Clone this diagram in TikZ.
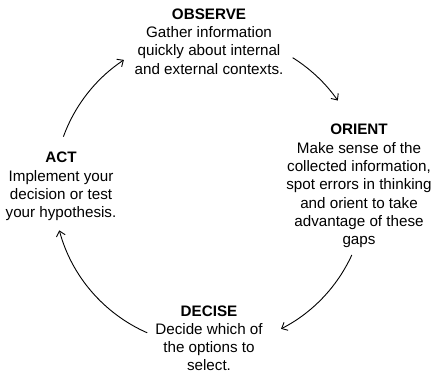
\documentclass[tikz,border=0pt]{standalone}
\usepackage{fontspec}
\setmainfont{Liberation Sans}
\usetikzlibrary{arrows.meta,calc}
\begin{document}
\begin{tikzpicture}[x=1pt,y=1pt,
  lbl/.style={anchor=base,align=center,inner sep=0pt,font=\fontsize{15.2}{18.3}\selectfont},
  cyc/.style={line width=0.9pt,-{Straight Barb[length=5pt,width=9pt,line width=0.9pt]}}]
\useasboundingbox (0,0) rectangle (433,374);
\coordinate (c) at (210,184);
% base anchor = baseline of the last line
\node[lbl] (observe) at (209,374-74.2) {\textbf{OBSERVE}\\Gather information\\quickly about internal\\and external contexts.};
\node[lbl] (orient) at (359,374-244.8) {\textbf{ORIENT}\\Make sense of the\\collected information,\\spot errors in thinking\\and orient to take\\advantage of these\\gaps};
\node[lbl] (decise) at (209,374-371) {\textbf{DECISE}\\Decide which of\\the options to\\select.};
\node[lbl] (act) at (61,374-217.9) {\textbf{ACT}\\Implement your\\decision or test\\your hypothesis.};
\coordinate (s1) at ($(c)+(160:156pt)$);
\coordinate (s2) at ($(c)+(58:156pt)$);
\coordinate (s3) at ($(c)+(-24.6:156pt)$);
\coordinate (s4) at ($(c)+(-113.7:156pt)$);
\draw[cyc] (s1) arc[start angle=160,end angle=123.5,radius=156pt];
\draw[cyc] (s2) arc[start angle=58,end angle=35,radius=156pt];
\draw[cyc] (s3) arc[start angle=-24.6,end angle=-62.9,radius=156pt];
\draw[cyc] (s4) arc[start angle=-113.7,end angle=-165,radius=156pt];
\end{tikzpicture}
\end{document}
